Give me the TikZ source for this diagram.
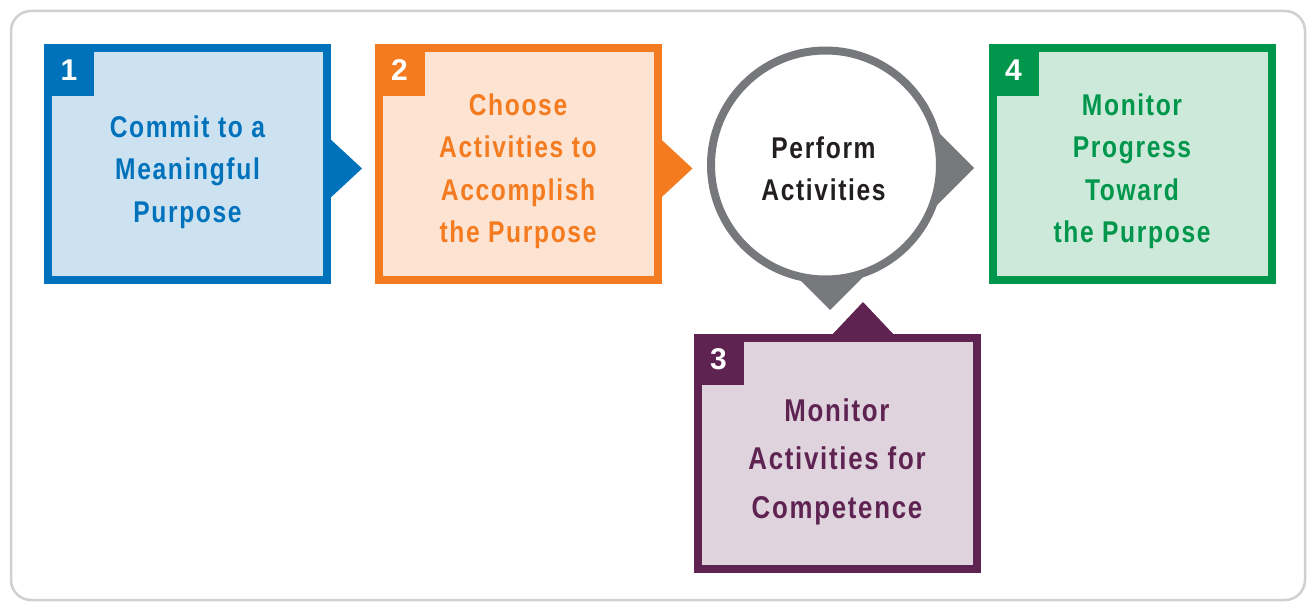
\documentclass[tikz,border=0pt]{standalone}
\usepackage{fontspec}
\usetikzlibrary{calc,backgrounds,shadows}
\newfontfamily\lab[FakeStretch=0.82,LetterSpace=5.5]{Liberation Sans}
\newfontfamily\numf{Liberation Sans}
\definecolor{cblue}{HTML}{0072BC}
\definecolor{lblue}{HTML}{CCE2F1}
\definecolor{corange}{HTML}{F47B20}
\definecolor{lorange}{HTML}{FDE4D2}
\definecolor{cgray}{HTML}{77787B}
\definecolor{cpurple}{HTML}{5F2352}
\definecolor{lpurple}{HTML}{DFD3DD}
\definecolor{cgreen}{HTML}{00964B}
\definecolor{lgreen}{HTML}{CCE9DA}
\definecolor{cframe}{HTML}{D0D0D0}
\definecolor{ctext}{HTML}{231F20}
\tikzset{
  stepbox/.style n args={2}{draw=#1, fill=#2, line width=8pt, minimum width=279pt,
    minimum height=231pt, inner sep=0pt, outer sep=4pt},
  tab/.style={fill=#1, minimum width=50pt, minimum height=51pt, inner sep=0pt,
    outer sep=0pt, anchor=north west, text=white, font=\numf\bfseries\fontsize{30}{30}\selectfont},
  lbl/.style={text=#1, align=center, inner sep=0pt, font=\lab\bfseries\fontsize{30}{42.5}\selectfont},
  lblbig/.style={text=#1, align=center, inner sep=0pt, font=\lab\bfseries\fontsize{31.5}{48.5}\selectfont}
}
\begin{document}
\begin{tikzpicture}[x=1pt,y=-1pt]
\useasboundingbox (0,0) rectangle (1307,602);
\draw[cframe, line width=2.5pt, rounded corners=20pt] (11,11) rectangle (1305,600);

% boxes
\node[stepbox={cblue}{lblue}] (b1) at (187.5,164) {};
\node[stepbox={corange}{lorange}] (b2) at (518,164) {};
\node[stepbox={cpurple}{lpurple}] (b3) at (837,453.5) {};
\node[stepbox={cgreen}{lgreen}] (b4) at (1132,164) {};

% number tabs
\node[tab=cblue] (n1) at (b1.north west) {1};
\node[tab=corange] (n2) at (b2.north west) {2};
\node[tab=cpurple] (n3) at (b3.north west) {3};
\node[tab=cgreen] (n4) at (b4.north west) {4};

% texts
\node[lbl=cblue] (t1) at ($(b1.center)+(0,8)$) {Commit to a\\Meaningful\\Purpose};
\node[lbl=corange] (t2) at ($(b2.center)+(0,7)$) {Choose\\Activities to\\Accomplish\\the Purpose};
\node[lblbig=cpurple] (t3) at ($(b3.center)+(0,8)$) {Monitor\\Activities for\\Competence};
\node[lbl=cgreen] (t4) at ($(b4.center)+(0,7)$) {Monitor\\Progress\\Toward\\the Purpose};

% arrow pointers of boxes
\fill[cblue] ($(b1.east)+(-4,-28)$) -- ($(b1.east)+(31,4.5)$) -- ($(b1.east)+(-4,37)$) -- cycle;
\fill[corange] ($(b2.east)+(-4,-28)$) -- ($(b2.east)+(31,4.5)$) -- ($(b2.east)+(-4,37)$) -- cycle;
\fill[cpurple] ($(b3.north)+(-8,4)$) -- ($(b3.north)+(26,-32)$) -- ($(b3.north)+(60,4)$) -- cycle;

% circle
\node[circle, draw=cgray, line width=8pt, fill=white, minimum size=229pt, inner sep=0pt,
  drop shadow={shadow xshift=1.5pt, shadow yshift=-3pt, opacity=0.25, fill=black}] (pc) at (825.5,165) {};
\node[text=ctext, align=center, inner sep=0pt, font=\lab\bfseries\fontsize{30}{42.5}\selectfont] (pt) at ($(pc.center)+(-2,4)$) {Perform\\Activities};
\begin{scope}[on background layer]
\fill[cgray] ($(pc.center)+(98.5,-47)$) -- ($(pc.center)+(148.5,3)$) -- ($(pc.center)+(98.5,53)$) -- cycle;
\fill[cgray] ($(pc.center)+(-40.5,100)$) -- ($(pc.center)+(4.5,145)$) -- ($(pc.center)+(49.5,100)$) -- cycle;
\end{scope}
\end{tikzpicture}
\end{document}
